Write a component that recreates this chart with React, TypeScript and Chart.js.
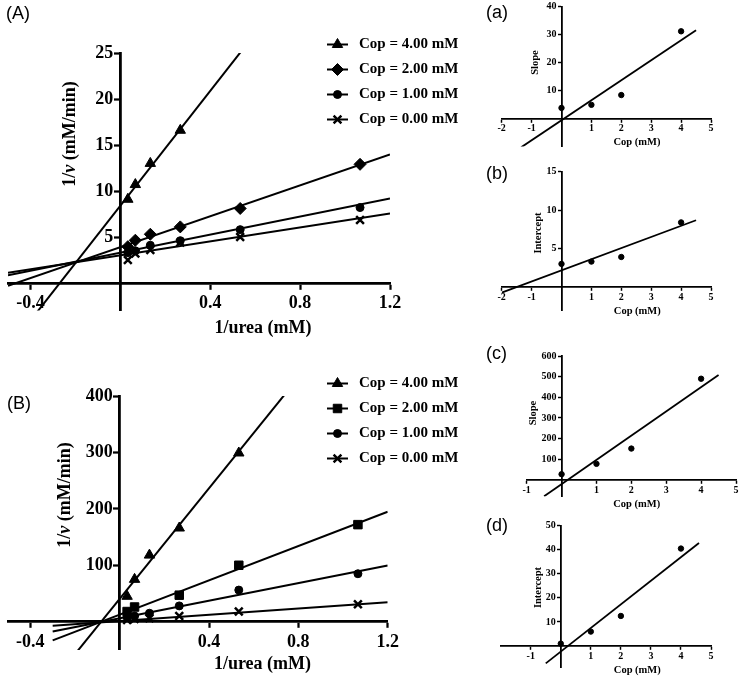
import React, { useEffect, useRef } from 'react';
import { Chart, registerables } from 'chart.js';
import { drawPoint } from 'chart.js/helpers';

Chart.register(...registerables);

const SERIF = '"Liberation Serif", "Times New Roman", Times, serif';
const SANS = '"Liberation Sans", Arial, Helvetica, sans-serif';

// ---------------- DATA ----------------
// Cop levels (mM) used in the secondary plots
const copLevels = [0, 1, 2, 4];
const legendLabels = ['Cop = 4.00 mM', 'Cop = 2.00 mM', 'Cop = 1.00 mM', 'Cop = 0.00 mM'];

// 1/[urea] (mM^-1)
const invUrea = [0.0333, 0.0667, 0.1333, 0.2667, 0.5333, 1.0667];

// Panel (A): 1/v values
const aCop4 = [9.1, 10.7, 13.0, 16.6];
const aCop2 = [3.95, 4.65, 5.3, 6.1, 8.1, 12.9];
const aCop1 = [3.3, 3.5, 4.1, 4.6, 5.8, 8.2];
const aCop0 = [2.5, 3.2, 3.6, 4.4, 5.0, 6.85];
// Lineweaver-Burk slopes / intercepts for Cop = 0, 1, 2, 4 mM (also plotted in (a), (b))
const slopeA = [3.8, 4.9, 8.4, 31.2];
const interceptA = [3.0, 3.3, 3.9, 8.4];
const lineRangeA = [-0.5, 1.2];

// Panel (B): 1/v values
const bCop4 = [45, 75, 118, 166, 299];
const bCop2 = [18, 26, null, 47, 100, 172];
const bCop1 = [8, 10, 15, 28, 56, 85];
const bCop0 = [3, 5, 6, 10, 18, 31];
// slopes / intercepts for Cop = 0, 1, 2, 4 mM (also plotted in (c), (d))
const slopeB = [28, 78, 152, 490];
const interceptB = [1, 6, 12.5, 40.5];
const lineRangeB = [-0.3, 1.2];

// Secondary plot regression lines: [slope, intercept], x-range
const fitA = [7.16, -0.63];
const fitARange = [-1.35, 4.5];
const fitB = [1.45, 2.16];
const fitBRange = [-2, 4.5];
const fitC = [117.4, -19.8];
const fitCRange = [-0.5, 4.5];
const fitD = [9.8, -2.3];
const fitDRange = [-0.5, 4.6];

// Axes (min, max, tick values)
const mainX = { min: -0.5, max: 1.2, ticks: [-0.4, 0.4, 0.8, 1.2] };
const aY = { min: -3, max: 25, ticks: [5, 10, 15, 20, 25] };
const bY = { min: -50, max: 400, ticks: [100, 200, 300, 400] };
const subAX = { min: -2, max: 5, ticks: [-2, -1, 1, 2, 3, 4, 5] };
const subAY = { min: -10, max: 40, ticks: [10, 20, 30, 40] };
const subBX = { min: -2, max: 5, ticks: [-2, -1, 1, 2, 3, 4, 5] };
const subBY = { min: -3, max: 15, ticks: [5, 10, 15] };
const subCX = { min: -1, max: 5, ticks: [-1, 1, 2, 3, 4, 5] };
const subCY = { min: -80, max: 600, ticks: [100, 200, 300, 400, 500, 600] };
const subDX = { min: -2, max: 5, ticks: [-1, 1, 2, 3, 4, 5] };
const subDY = { min: -9, max: 50, ticks: [10, 20, 30, 40, 50] };

// ---------------- HELPERS ----------------
type AxisSpec = { min: number; max: number; ticks: number[] };
type Style = { tickFont: number; tickLen: number; padX: number; yLabelGap: number; axisW: number };
type Marker = { style: string; r: number; bw: number };

function makeScale(a: AxisSpec, isX: boolean, st: Style) {
  return {
    type: 'linear',
    min: a.min,
    max: a.max,
    bounds: 'data',
    position: isX ? { y: 0 } : { x: 0 },
    afterBuildTicks: (sc: any) => {
      sc.ticks = a.ticks.map((v) => ({ value: v }));
    },
    ticks: {
      display: isX,
      font: { size: st.tickFont, weight: 'bold', family: SERIF },
      color: '#000',
      padding: st.padX,
      autoSkip: false,
      maxRotation: 0,
      minRotation: 0,
      callback: (v: any) => String(v),
    },
    grid: {
      display: true,
      drawOnChartArea: false,
      drawTicks: true,
      tickLength: st.tickLen,
      tickWidth: st.axisW * 0.8,
      tickColor: '#000',
      color: '#000',
    },
    border: { display: true, color: '#000', width: st.axisW },
    title: { display: false },
  };
}

function lineDs(m: number, b: number, range: number[], w: number) {
  return {
    data: range.map((x) => ({ x, y: b + m * x })),
    showLine: true,
    borderColor: '#000',
    borderWidth: w,
    pointRadius: 0,
    fill: false,
    order: 2,
  };
}

function pointDs(xs: number[], ys: (number | null)[], mk: Marker) {
  return {
    data: xs.map((x, i) => ({ x, y: ys[i] })).filter((p) => p.y !== null && p.y !== undefined),
    showLine: false,
    pointStyle: mk.style,
    pointRadius: mk.r,
    pointBackgroundColor: '#000',
    pointBorderColor: '#000',
    pointBorderWidth: mk.bw,
    backgroundColor: '#000',
    borderColor: '#000',
    order: 1,
  };
}

type TitlePart = { text: string; italic?: boolean };
type Decor = {
  panel: string; panelX: number; panelY: number; panelSize: number;
  titleSize: number;
  xTitle: string; xTitleX: number; xTitleY: number;
  yTitle: TitlePart[]; yTitleX: number; yTitleY: number;
  legend?: { x1: number; x2: number; tx: number; y0: number; dy: number; size: number; items: { label: string; mk: Marker }[] };
};

function decorPlugin(d: Decor, st: Style) {
  return {
    id: 'decor',
    afterDraw(chart: any) {
      const ctx: CanvasRenderingContext2D = chart.ctx;
      ctx.save();
      ctx.fillStyle = '#000';
      ctx.strokeStyle = '#000';
      ctx.textBaseline = 'middle';
      // y tick labels, from the y scale's own ticks, right of which sits the axis at x = 0
      const ys = chart.scales.y;
      const x0 = chart.scales.x.getPixelForValue(0);
      ctx.font = `bold ${st.tickFont}px ${SERIF}`;
      ctx.textAlign = 'right';
      ys.ticks.forEach((t: any) => {
        ctx.fillText(String(t.value), x0 - st.yLabelGap, ys.getPixelForValue(t.value));
      });
      // panel label
      ctx.font = `${d.panelSize}px ${SANS}`;
      ctx.textAlign = 'left';
      ctx.fillText(d.panel, d.panelX, d.panelY);
      // x title
      ctx.font = `bold ${d.titleSize}px ${SERIF}`;
      ctx.textAlign = 'center';
      ctx.fillText(d.xTitle, d.xTitleX, d.xTitleY);
      // y title (rotated)
      ctx.save();
      ctx.translate(d.yTitleX, d.yTitleY);
      ctx.rotate(-Math.PI / 2);
      const fontOf = (p: TitlePart) => `${p.italic ? 'italic ' : ''}bold ${d.titleSize}px ${SERIF}`;
      let total = 0;
      const widths = d.yTitle.map((p) => {
        ctx.font = fontOf(p);
        const w = ctx.measureText(p.text).width;
        total += w;
        return w;
      });
      let cx = -total / 2;
      ctx.textAlign = 'left';
      d.yTitle.forEach((p, i) => {
        ctx.font = fontOf(p);
        ctx.fillText(p.text, cx, 0);
        cx += widths[i];
      });
      ctx.restore();
      // legend
      if (d.legend) {
        const L = d.legend;
        L.items.forEach((it, i) => {
          const y = L.y0 + i * L.dy;
          ctx.lineWidth = 2;
          ctx.beginPath();
          ctx.moveTo(L.x1, y);
          ctx.lineTo(L.x2, y);
          ctx.stroke();
          ctx.fillStyle = '#000';
          ctx.strokeStyle = '#000';
          ctx.lineWidth = it.mk.bw;
          drawPoint(ctx, { pointStyle: it.mk.style as any, radius: it.mk.r, borderWidth: it.mk.bw, rotation: 0 } as any, (L.x1 + L.x2) / 2, y);
          ctx.font = `bold ${L.size}px ${SERIF}`;
          ctx.textAlign = 'left';
          ctx.fillText(it.label, L.tx, y);
        });
      }
      ctx.restore();
    },
  };
}

function buildConfig(o: {
  datasets: any[]; x: AxisSpec; y: AxisSpec; style: Style;
  padding: { left: number; top: number; right: number; bottom: number }; decor: Decor;
}): any {
  return {
    type: 'scatter',
    data: { datasets: o.datasets },
    options: {
      responsive: false,
      animation: false,
      devicePixelRatio: 1,
      events: [],
      layout: { padding: o.padding },
      plugins: { legend: { display: false }, tooltip: { enabled: false } },
      scales: { x: makeScale(o.x, true, o.style), y: makeScale(o.y, false, o.style) },
    },
    plugins: [decorPlugin(o.decor, o.style)],
  };
}

// ---------------- PANELS ----------------
const mainStyle: Style = { tickFont: 18, tickLen: 5, padX: 5, yLabelGap: 7, axisW: 2.8 };
const subStyle: Style = { tickFont: 10, tickLen: 3, padX: 1, yLabelGap: 5, axisW: 1.8 };

const triA: Marker = { style: 'triangle', r: 6, bw: 1 };
const diaA: Marker = { style: 'rectRot', r: 6, bw: 1 };
const cirA: Marker = { style: 'circle', r: 4, bw: 1 };
const crsA: Marker = { style: 'crossRot', r: 5.5, bw: 2.5 };
const sqB: Marker = { style: 'rect', r: 6, bw: 1 };
const dot: Marker = { style: 'circle', r: 2.7, bw: 1 };

const yMainTitle: TitlePart[] = [{ text: '1/' }, { text: 'v', italic: true }, { text: ' (mM/min)' }];

function configA() {
  const ds = [
    lineDs(slopeA[3], interceptA[3], lineRangeA, 2),
    lineDs(slopeA[2], interceptA[2], lineRangeA, 2),
    lineDs(slopeA[1], interceptA[1], lineRangeA, 2),
    lineDs(slopeA[0], interceptA[0], lineRangeA, 2),
    pointDs(invUrea.slice(0, 4), aCop4, triA),
    pointDs(invUrea, aCop2, diaA),
    pointDs(invUrea, aCop1, cirA),
    pointDs(invUrea, aCop0, crsA),
  ];
  return buildConfig({
    datasets: ds, x: mainX, y: aY, style: mainStyle,
    padding: { left: 3, top: 53, right: 80, bottom: 34.4 },
    decor: {
      panel: '(A)', panelX: 6, panelY: 14, panelSize: 18, titleSize: 18,
      xTitle: '1/urea (mM)', xTitleX: 263, xTitleY: 328,
      yTitle: yMainTitle, yTitleX: 70, yTitleY: 134,
      legend: {
        x1: 327, x2: 348, tx: 359, y0: 44.5, dy: 25, size: 15,
        items: [
          { label: legendLabels[0], mk: triA },
          { label: legendLabels[1], mk: diaA },
          { label: legendLabels[2], mk: cirA },
          { label: legendLabels[3], mk: crsA },
        ],
      },
    },
  });
}

function configB() {
  const ds = [
    lineDs(slopeB[3], interceptB[3], lineRangeB, 2),
    lineDs(slopeB[2], interceptB[2], lineRangeB, 2),
    lineDs(slopeB[1], interceptB[1], lineRangeB, 2),
    lineDs(slopeB[0], interceptB[0], lineRangeB, 2),
    pointDs(invUrea.slice(0, 5), bCop4, triA),
    pointDs(invUrea, bCop2, sqB),
    pointDs(invUrea, bCop1, cirA),
    pointDs(invUrea, bCop0, crsA),
  ];
  return buildConfig({
    datasets: ds, x: mainX, y: bY, style: mainStyle,
    padding: { left: 4, top: 51, right: 82.3, bottom: 29.1 },
    decor: {
      panel: '(B)', panelX: 7, panelY: 59.5, panelSize: 18, titleSize: 18,
      xTitle: '1/urea (mM)', xTitleX: 262.5, xTitleY: 319,
      yTitle: yMainTitle, yTitleX: 65, yTitleY: 150,
      legend: {
        x1: 327, x2: 348, tx: 359, y0: 38.5, dy: 25, size: 15,
        items: [
          { label: legendLabels[0], mk: triA },
          { label: legendLabels[1], mk: sqB },
          { label: legendLabels[2], mk: cirA },
          { label: legendLabels[3], mk: crsA },
        ],
      },
    },
  });
}

function subConfig(
  ys: number[], fit: number[], range: number[], x: AxisSpec, y: AxisSpec,
  padding: any, decor: Decor,
) {
  return buildConfig({
    datasets: [lineDs(fit[0], fit[1], range, 1.8), pointDs(copLevels, ys, dot)],
    x, y, style: subStyle, padding, decor,
  });
}

const configSa = () =>
  subConfig(slopeA, fitA, fitARange, subAX, subAY, { left: 21.7, top: 6.7, right: 31, bottom: 13.5 }, {
    panel: '(a)', panelX: 6, panelY: 13.5, panelSize: 18, titleSize: 10.5,
    xTitle: 'Cop (mM)', xTitleX: 157, xTitleY: 142.7,
    yTitle: [{ text: 'Slope' }], yTitleX: 55, yTitleY: 62.5,
  });
const configSb = () =>
  subConfig(interceptA, fitB, fitBRange, subBX, subBY, { left: 21.7, top: 11.7, right: 31, bottom: 20 }, {
    panel: '(b)', panelX: 6, panelY: 14, panelSize: 18, titleSize: 10.5,
    xTitle: 'Cop (mM)', xTitleX: 157.3, xTitleY: 151,
    yTitle: [{ text: 'Intercept' }], yTitleX: 58.3, yTitleY: 73,
  });
const configSc = () =>
  subConfig(slopeB, fitC, fitCRange, subCX, subCY, { left: 46.7, top: 26, right: 6, bottom: 18.5 }, {
    panel: '(c)', panelX: 6, panelY: 24, panelSize: 18, titleSize: 10.5,
    xTitle: 'Cop (mM)', xTitleX: 156.7, xTitleY: 174,
    yTitle: [{ text: 'Slope' }], yTitleX: 53.3, yTitleY: 83,
  });
const configSd = () =>
  subConfig(interceptB, fitD, fitDRange, subDX, subDY, { left: 20.7, top: 20.7, right: 31, bottom: 11.3 }, {
    panel: '(d)', panelX: 6, panelY: 21.5, panelSize: 18, titleSize: 10.5,
    xTitle: 'Cop (mM)', xTitleX: 157.3, xTitleY: 165,
    yTitle: [{ text: 'Intercept' }], yTitleX: 58.3, yTitleY: 82.5,
  });

function Panel(props: { build: () => any; left: number; top: number; width: number; height: number }) {
  const ref = useRef<HTMLCanvasElement>(null);
  useEffect(() => {
    const chart = new Chart(ref.current as HTMLCanvasElement, props.build());
    return () => chart.destroy();
  }, []);
  return (
    <canvas
      ref={ref}
      width={props.width}
      height={props.height}
      style={{ position: 'absolute', left: props.left, top: props.top, width: props.width, height: props.height }}
    />
  );
}

export default function App() {
  return (
    <div style={{ position: 'absolute', left: 0, top: 0, width: 742, height: 679, background: '#fff', overflow: 'hidden' }}>
      <Panel build={configA} left={0} top={0} width={470} height={345} />
      <Panel build={configB} left={0} top={345} width={470} height={334} />
      <Panel build={configSa} left={480} top={0} width={262} height={160} />
      <Panel build={configSb} left={480} top={160} width={262} height={170} />
      <Panel build={configSc} left={480} top={330} width={262} height={185} />
      <Panel build={configSd} left={480} top={505} width={262} height={174} />
    </div>
  );
}
